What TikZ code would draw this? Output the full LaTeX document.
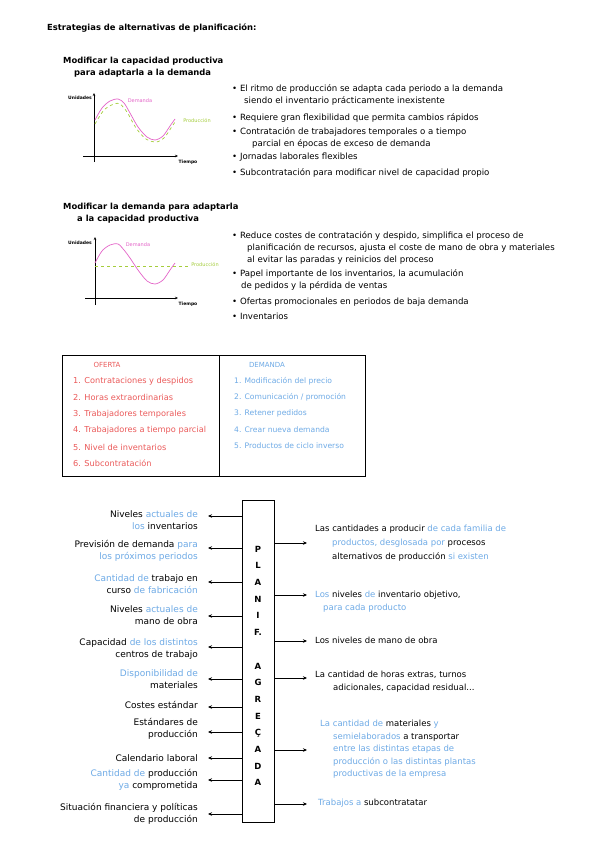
\documentclass[tikz,border=0pt]{standalone}
\usepackage{fontspec}
\setmainfont{DejaVu Sans}
\usetikzlibrary{arrows.meta,positioning}
\definecolor{azul}{RGB}{110,170,230}
\definecolor{rojo}{RGB}{235,90,90}
\definecolor{rosa}{RGB}{228,100,200}
\definecolor{verde}{RGB}{165,205,60}
\newcommand{\az}[1]{\textcolor{azul}{#1}}

\begin{document}
\begin{tikzpicture}[x=1pt,y=-1pt,
    every node/.style={inner sep=0pt, font=\fontsize{8.6}{12}\selectfont},
    head/.style={anchor=north west, align=left, font=\fontsize{8.4}{11.5}\selectfont\bfseries},
    bul/.style={anchor=north west, align=left},
    tabla/.style={anchor=west, font=\fontsize{8.2}{10}\selectfont},
    lbl/.style={anchor=north east, align=right, font=\fontsize{9}{12.5}\selectfont},
    res/.style={anchor=north west, align=left, font=\fontsize{8.5}{12.5}\selectfont},
    eje/.style={line width=0.8pt, -{Stealth[length=3pt,width=2.5pt]}},
    mini/.style={font=\fontsize{4.5}{5}\selectfont\bfseries},
    curva/.style={line width=0.7pt},
    flecha/.style={line width=0.9pt, -{Stealth[length=4pt,width=3.5pt]}},
    letra/.style={font=\fontsize{8.5}{10}\selectfont\bfseries},
  ]
  \fill[white] (0,0) rectangle (599,848);
  \useasboundingbox (0,0) rectangle (599,848);

  \node[head, anchor=west] (titulo) at (47,28) {Estrategias de alternativas de planificación:};

  % modificar la capacidad
  \node[head] (mod1) at (63,57) {Modificar la capacidad productiva\\\hspace*{11pt}para adaptarla a la demanda};
  \draw[eje] (94,162) -- (94,93);
  \draw[eje] (83,156) -- (178,156);
  \node[mini] (ud1) at (80,98) {Unidades};
  \node[mini] (t1) at (188,162) {Tiempo};
  \draw[rosa, curva] plot[smooth] coordinates {(95,120) (102,108) (110,101) (118,99) (124,103) (130,113) (138,127) (147,137) (155,140) (163,136) (170,126) (175,119)};
  \draw[verde, curva, dashed] plot[smooth] coordinates {(95,124) (104,110) (114,104) (120,104) (127,112) (136,128) (146,139) (156,142) (164,138) (171,128) (175,122)};
  \node[mini, text=rosa, font=\fontsize{5}{6}\selectfont] (dem1) at (140,101) {Demanda};
  \node[mini, text=verde, font=\fontsize{5}{6}\selectfont] (pro1) at (197,121) {Producción};

  \node[bul] (b11) at (232,84) {\textbullet\ El ritmo de producción se adapta cada periodo a la demanda\\\hspace*{12pt}siendo el inventario prácticamente inexistente};
  \node[bul] (b12) at (232,113) {\textbullet\ Requiere gran flexibilidad que permita cambios rápidos};
  \node[bul] (b13) at (232,127) {\textbullet\ Contratación de trabajadores temporales o a tiempo\\\hspace*{20pt}parcial en épocas de exceso de demanda};
  \node[bul] (b14) at (232,153) {\textbullet\ Jornadas laborales flexibles};
  \node[bul] (b15) at (232,168) {\textbullet\ Subcontratación para modificar nivel de capacidad propio};

  % modificar la demanda
  \node[head] (mod2) at (63,203) {Modificar la demanda para adaptarla\\\hspace*{14pt}a la capacidad productiva};
  \draw[eje] (95,305) -- (95,237);
  \draw[eje] (85,298) -- (178,298);
  \node[mini] (ud2) at (80,243) {Unidades};
  \node[mini] (t2) at (188,304) {Tiempo};
  \draw[rosa, curva] plot[smooth] coordinates {(95,263) (102,251) (110,245) (118,244) (124,250) (130,258) (138,270) (147,281) (155,284) (163,280) (170,270) (175,263)};
  \draw[verde, curva, dashed] (95,266) -- (190,266);
  \node[mini, text=rosa, font=\fontsize{5}{6}\selectfont] (dem2) at (138,245) {Demanda};
  \node[mini, text=verde, font=\fontsize{5}{6}\selectfont] (pro2) at (205,265) {Producción};

  \node[bul] (b21) at (232,231) {\textbullet\ Reduce costes de contratación y despido, simplifica el proceso de\\\hspace*{15pt}planificación de recursos, ajusta el coste de mano de obra y materiales\\\hspace*{15pt}al evitar las paradas y reinicios del proceso};
  \node[bul] (b22) at (232,269) {\textbullet\ Papel importante de los inventarios, la acumulación\\\hspace*{9pt}de pedidos y la pérdida de ventas};
  \node[bul] (b23) at (232,298) {\textbullet\ Ofertas promocionales en periodos de baja demanda};
  \node[bul] (b24) at (232,313) {\textbullet\ Inventarios};

  % tabla oferta / demanda
  \draw[line width=1pt] (62,355) rectangle (365,476);
  \draw[line width=1pt] (219,355) -- (219,476);
  \node[text=rojo, font=\fontsize{7}{8}\selectfont] (oferta) at (107,365) {OFERTA};
  \node[text=azul, font=\fontsize{7}{8}\selectfont] (demanda) at (267,365) {DEMANDA};
  \foreach \t [count=\i] in {1. Contrataciones y despidos, 2. Horas extraordinarias, 3. Trabajadores temporales,
      4. Trabajadores a tiempo parcial, 5. Nivel de inventarios, 6. Subcontratación}
    \node[tabla, text=rojo] (of\i) at (73,365+16.4*\i) {\t};
  \foreach \t [count=\i] in {1. Modificación del precio, 2. Comunicación / promoción, 3. Retener pedidos,
      4. Crear nueva demanda, 5. Productos de ciclo inverso}
    \node[tabla, text=azul, font=\fontsize{7.6}{10}\selectfont] (de\i) at (234,365+16.2*\i) {\t};

  % planificacion agregada
  \node[draw, line width=1pt, minimum width=32pt, minimum height=322pt] (plan) at (258,661) {};
  \foreach \l [count=\i] in {P,L,A,N,I,F.,{},A,G,R,E,Ç,A,D,A}
    \node[letra] (c\i) at (258,549+16.7*\i-16.7) {\l};

  \foreach \y [count=\i] in {516,548,582,616,647,679,707,732,758,780,814} {
    \coordinate (e\i) at (208,\y);
    \draw[flecha] (plan.west |- e\i) -- (e\i);
  }
  \foreach \y [count=\i] in {543,595,641,678,750,804} {
    \coordinate (s\i) at (307,\y);
    \draw[flecha] (plan.east |- s\i) -- (s\i);
  }

  \node[lbl] (in1) at (198,510) {Niveles \az{actuales de}\\\az{los} inventarios};
  \node[lbl] (in2) at (198,540) {Previsión de demanda \az{para}\\\az{los próximos periodos}};
  \node[lbl] (in3) at (198,574) {\az{Cantidad de} trabajo en\\curso \az{de fabricación}};
  \node[lbl] (in4) at (198,605) {Niveles \az{actuales de}\\mano de obra};
  \node[lbl] (in5) at (198,638) {Capacidad \az{de los distintos}\\centros de trabajo};
  \node[lbl] (in6) at (198,669) {\az{Disponibilidad de}\\materiales};
  \node[lbl] (in7) at (198,701) {Costes estándar};
  \node[lbl] (in8) at (198,718) {Estándares de\\producción};
  \node[lbl] (in9) at (198,754) {Calendario laboral};
  \node[lbl] (in10) at (198,769) {\az{Cantidad de} producción\\\az{ya} comprometida};
  \node[lbl] (in11) at (198,803) {Situación financiera y políticas\\de producción};

  \node[res, font=\fontsize{8.5}{14}\selectfont] (out1) at (315,525) {Las cantidades a producir \az{de cada familia de}\\\hspace*{17pt}\az{productos, desglosada por} procesos\\\hspace*{17pt}alternativos de producción \az{si existen}};
  \node[res] (out2) at (315,591) {\az{Los} niveles \az{de} inventario objetivo,\\\hspace*{8pt}\az{para cada producto}};
  \node[res] (out3) at (315,637) {Los niveles de mano de obra};
  \node[res] (out4) at (315,671) {La cantidad de horas extras, turnos\\\hspace*{18pt}adicionales, capacidad residual...};
  \node[res] (out5) at (320,720) {\az{La cantidad de} materiales \az{y}\\\hspace*{13pt}\az{semielaborados} a transportar\\\hspace*{13pt}\az{entre las distintas etapas de}\\\hspace*{13pt}\az{producción o las distintas plantas}\\\hspace*{13pt}\az{productivas de la empresa}};
  \node[res] (out6) at (318,799) {\az{Trabajos a} subcontratatar};
\end{tikzpicture}
\end{document}
